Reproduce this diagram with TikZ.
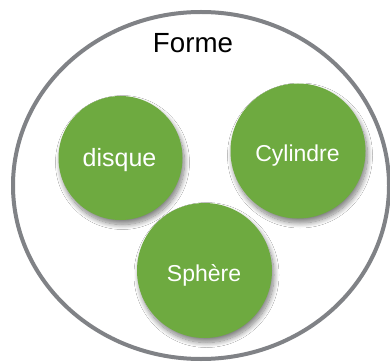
\documentclass[tikz,border=0pt]{standalone}
\usepackage{fontspec}
\setmainfont{Liberation Sans}
\usetikzlibrary{shadows.blur}
\definecolor{rimgray}{RGB}{128,130,134}
\definecolor{feltgreen}{RGB}{110,170,64}
\tikzset{
  outerset/.style={draw=rimgray, line width=4pt, fill=white},
  shapeball/.style={circle, fill=feltgreen, inner sep=0pt,
    blur shadow={shadow xshift=2pt, shadow yshift=-4.5pt, shadow blur steps=12, shadow opacity=50, shadow blur radius=5pt}},
  balltext/.style={anchor=base, text=white, font=\fontsize{23}{26}\selectfont, inner sep=0pt},
  titletext/.style={anchor=base, text=black, font=\fontsize{27.7}{32}\selectfont, inner sep=0pt}
}
\begin{document}
\begin{tikzpicture}[x=1pt, y=-1pt]
\useasboundingbox (0,0) rectangle (390,363);
\fill[white] (0,0) rectangle (390,363);
\draw[outerset] (201,185.5) ellipse [x radius=188, y radius=173.5];
\node[titletext] (forme) at (193,53) {Forme};
\node[shapeball, minimum size=124pt] (disqueball) at (120.5,158) {};
\node[shapeball, minimum size=135pt] (cylball) at (298,151) {};
\node[shapeball, minimum size=135pt] (sphball) at (204.5,270.5) {};
\node[balltext, font=\fontsize{25}{28}\selectfont] (disque) at (119.5,167) {disque};
\node[balltext] (cyl) at (297.5,162) {Cylindre};
\node[balltext] (sph) at (204,281) {Sphère};
\end{tikzpicture}
\end{document}
